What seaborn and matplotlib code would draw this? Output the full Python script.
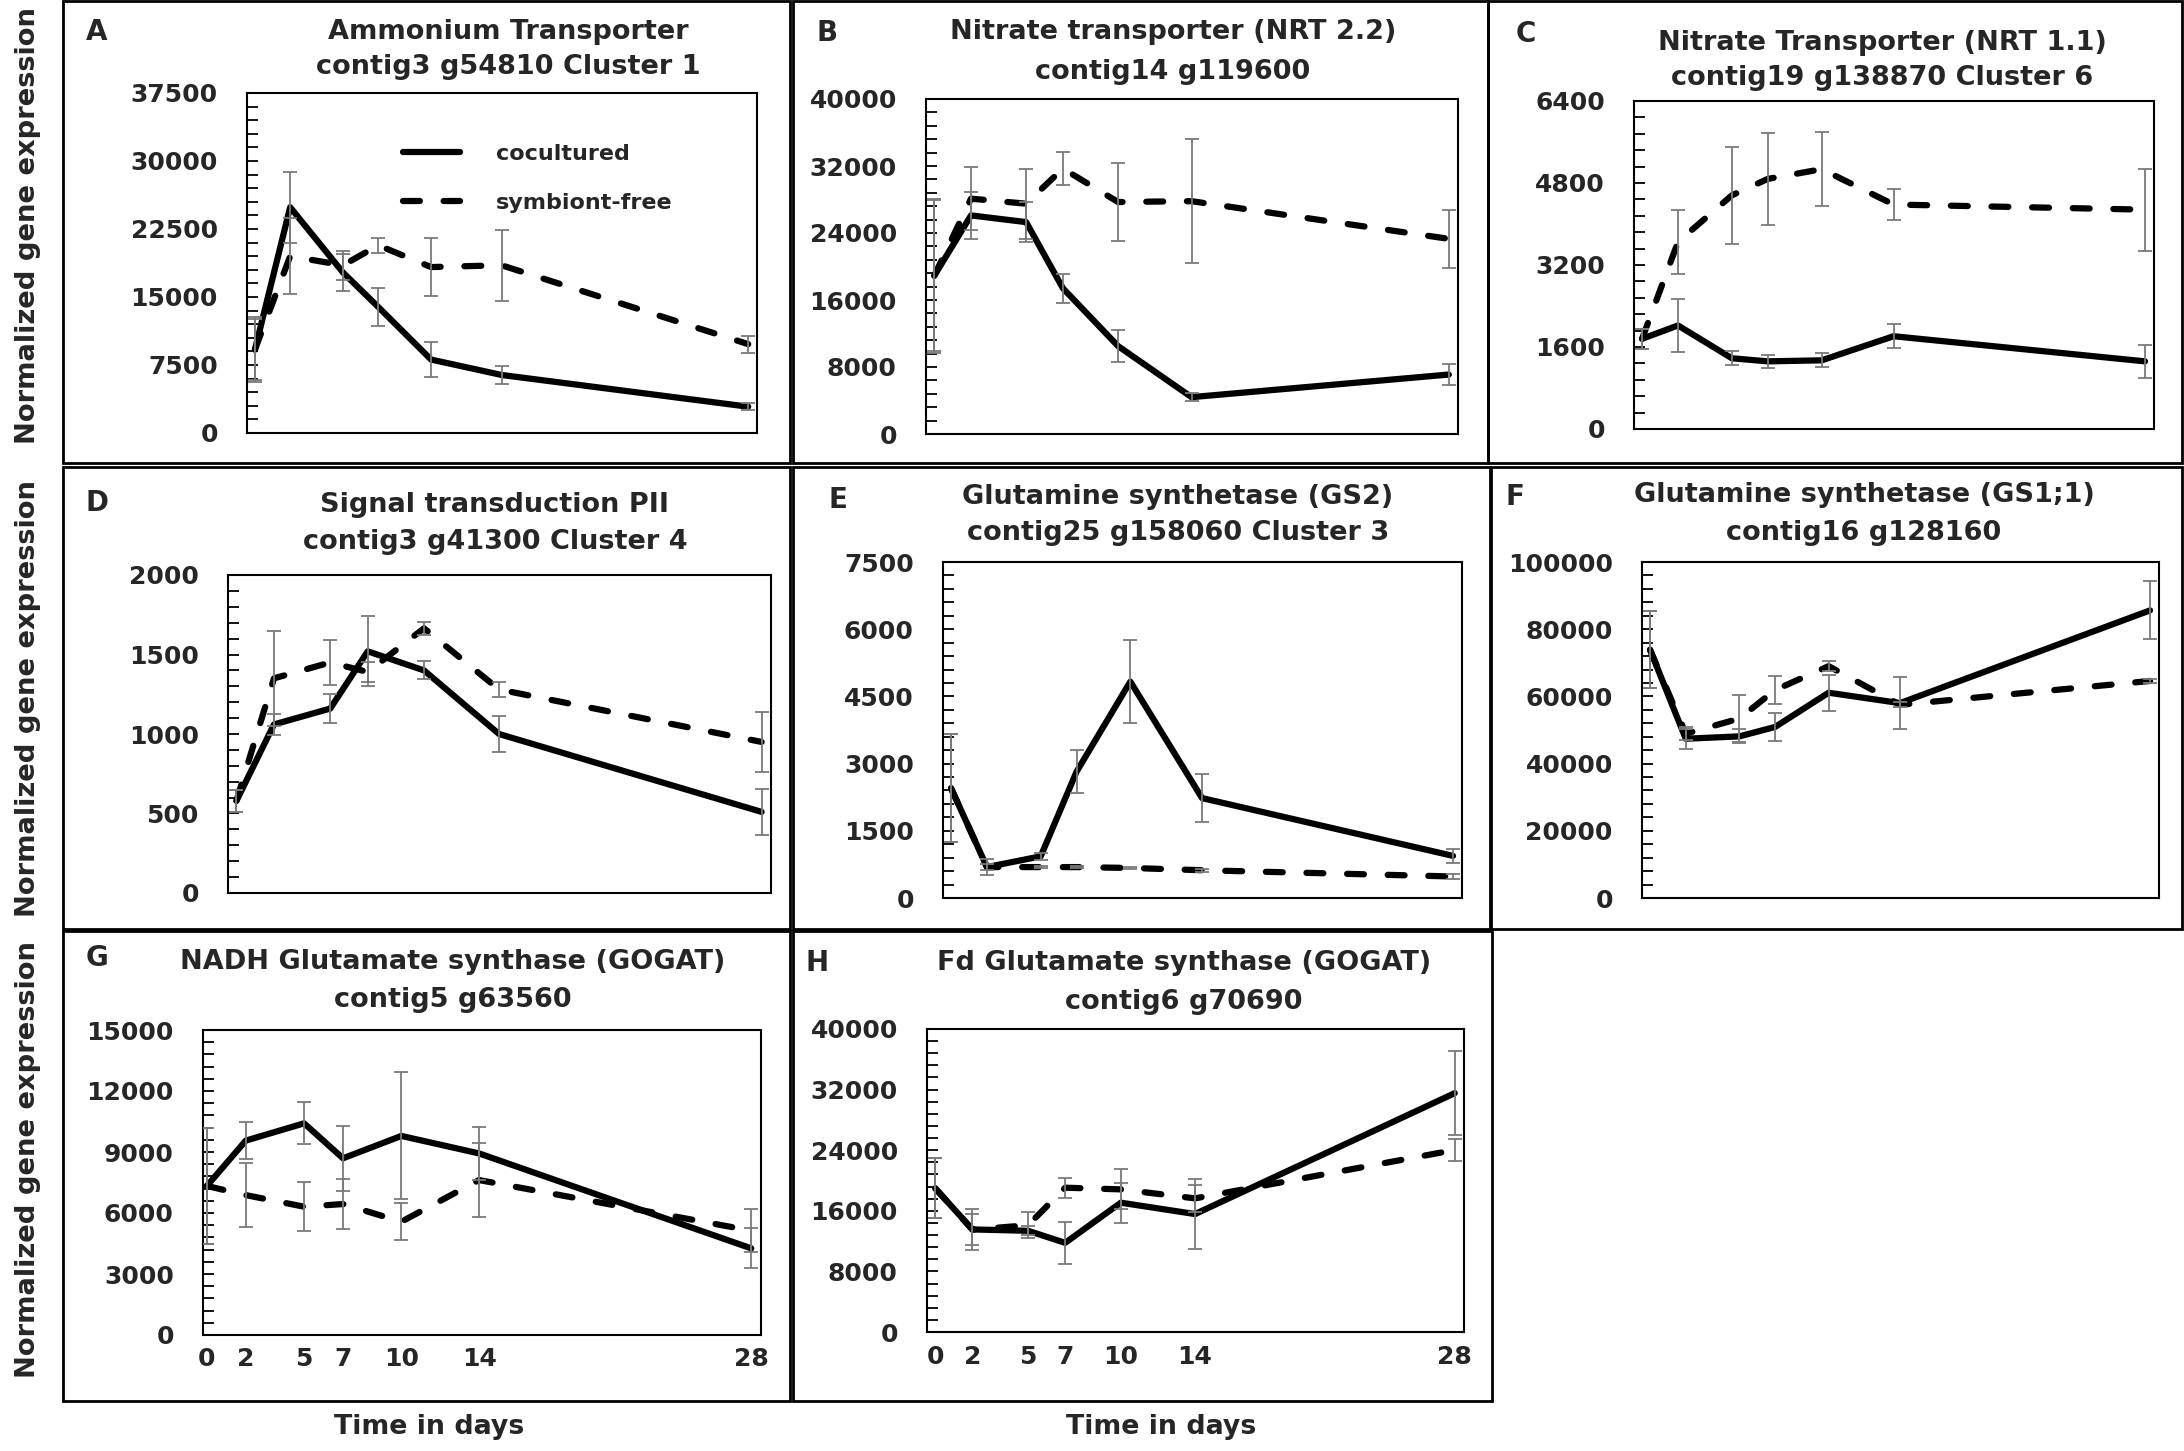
import matplotlib
matplotlib.use("Agg")
import matplotlib.pyplot as plt
import seaborn as sns
import pandas as pd
from matplotlib.patches import Rectangle
from matplotlib.ticker import MultipleLocator

# ---------------- data ----------------
days = [0, 2, 5, 7, 10, 14, 28]
day_labels = ["0", "2", "5", "7", "10", "14", "28"]
series_names = ["cocultured", "symbiont-free"]

A_cocult = [9200, 24900, 17700, 13900, 8100, 6400, 2900]
A_cocult_err = [3600, 3900, 2000, 2100, 1900, 1000, 400]
A_free = [9200, 19500, 18500, 20700, 18300, 18500, 9800]
A_free_err = [3400, 4200, 1600, 800, 3200, 3900, 950]

B_cocult = [18900, 26100, 25300, 17400, 10500, 4400, 7100]
B_cocult_err = [9000, 2800, 2400, 1700, 1900, 500, 1200]
B_free = [18900, 28100, 27500, 31700, 27700, 27800, 23300]
B_free_err = [9200, 3800, 4200, 2000, 4700, 7400, 3500]

C_cocult = [1760, 2020, 1380, 1320, 1340, 1810, 1320]
C_cocult_err = [190, 520, 140, 130, 140, 230, 320]
C_free = [1760, 3650, 4560, 4880, 5070, 4380, 4280]
C_free_err = [190, 630, 950, 900, 720, 300, 800]

D_cocult = [580, 1060, 1160, 1520, 1400, 1000, 510]
D_cocult_err = [70, 66, 92, 220, 57, 115, 143]
D_free = [580, 1350, 1450, 1390, 1665, 1280, 950]
D_free_err = [70, 300, 144, 60, 42, 48, 186]

E_cocult = [2450, 690, 930, 2820, 4830, 2230, 940]
E_cocult_err = [1200, 180, 80, 475, 930, 535, 160]
E_free = [2450, 690, 690, 690, 670, 620, 480]
E_free_err = [1200, 60, 30, 30, 30, 30, 55]

F_cocult = [73900, 47400, 48100, 50900, 61100, 58000, 85600]
F_cocult_err = [11400, 3000, 2100, 4100, 5300, 7800, 8600]
F_free = [73900, 48900, 53400, 61900, 69000, 57500, 64600]
F_free_err = [11400, 2000, 6900, 4300, 1500, 800, 500]

G_cocult = [7330, 9560, 10410, 8690, 9790, 8930, 4260]
G_cocult_err = [2860, 900, 1040, 1600, 3120, 1300, 980]
G_free = [7330, 6880, 6310, 6440, 5570, 7620, 5130]
G_free_err = [2860, 1570, 1200, 1210, 900, 1800, 1050]

H_cocult = [18960, 13540, 13360, 11770, 17070, 15570, 31530]
H_cocult_err = [3970, 2760, 600, 2760, 2650, 4590, 5510]
H_free = [18960, 13500, 14100, 19050, 18830, 17640, 24030]
H_free_err = [3970, 2050, 1700, 1320, 2650, 1760, 1410]

titles = {
    "A": ("Ammonium Transporter", "contig3 g54810 Cluster 1"),
    "B": ("Nitrate transporter (NRT 2.2)", "contig14 g119600"),
    "C": ("Nitrate Transporter (NRT 1.1)", "contig19 g138870 Cluster 6"),
    "D": ("Signal transduction PII", "contig3 g41300 Cluster 4"),
    "E": ("Glutamine synthetase (GS2)", "contig25 g158060 Cluster 3"),
    "F": ("Glutamine synthetase (GS1;1)", "contig16 g128160"),
    "G": ("NADH Glutamate synthase (GOGAT)", "contig5 g63560"),
    "H": ("Fd Glutamate synthase (GOGAT)", "contig6 g70690"),
}
y_max = {"A": 37500, "B": 40000, "C": 6400, "D": 2000, "E": 7500, "F": 100000, "G": 15000, "H": 40000}
y_step = {"A": 7500, "B": 8000, "C": 1600, "D": 500, "E": 1500, "F": 20000, "G": 3000, "H": 8000}

values = {
    "A": (A_cocult, A_cocult_err, A_free, A_free_err),
    "B": (B_cocult, B_cocult_err, B_free, B_free_err),
    "C": (C_cocult, C_cocult_err, C_free, C_free_err),
    "D": (D_cocult, D_cocult_err, D_free, D_free_err),
    "E": (E_cocult, E_cocult_err, E_free, E_free_err),
    "F": (F_cocult, F_cocult_err, F_free, F_free_err),
    "G": (G_cocult, G_cocult_err, G_free, G_free_err),
    "H": (H_cocult, H_cocult_err, H_free, H_free_err),
}

# ---------------- layout (pixels) ----------------
W, H = 2184, 1451
DPI = 100
axes_px = {
    "A": (247, 93, 757, 433),
    "B": (926, 99, 1458, 434),
    "C": (1634, 101, 2154, 429),
    "D": (228, 575, 771, 893),
    "E": (943, 562, 1462, 898),
    "F": (1642, 562, 2159, 898),
    "G": (203, 1030, 761, 1335),
    "H": (927, 1029, 1464, 1332),
}
boxes_px = {
    "A": (63, 1, 790, 463), "B": (793, 1, 1488, 463), "C": (1488, 1, 2182, 463),
    "D": (63, 467, 790, 929), "E": (793, 467, 1490, 929), "F": (1491, 467, 2182, 929),
    "G": (63, 931, 790, 1401), "H": (793, 931, 1492, 1401),
}
title_pos = {
    "A": (508, 32, 67), "B": (1173, 32, 72), "C": (1882, 43, 78),
    "D": (495, 505, 542), "E": (1178, 497, 533), "F": (1864, 495, 533),
    "G": (453, 962, 1000), "H": (1184, 963, 1002),
}
letter_pos = {
    "A": (97, 32), "B": (827, 33), "C": (1526, 34), "D": (97, 503),
    "E": (838, 500), "F": (1515, 497), "G": (97, 958), "H": (817, 963),
}

sns.set_theme(style="white")
plt.rcParams['font.family'] = ['DejaVu Sans']
plt.rcParams['font.weight'] = 'bold'

fig = plt.figure(figsize=(W / DPI, H / DPI), dpi=DPI)
fig.patch.set_facecolor("white")


def fx(px):
    return px / W


def fy(py):
    return 1 - py / H


for key, (x0, y0, x1, y1) in boxes_px.items():
    fig.add_artist(Rectangle((fx(x0), fy(y1)), (x1 - x0) / W, (y1 - y0) / H,
                             transform=fig.transFigure, fill=False,
                             edgecolor="black", linewidth=2.0))

for key in "ABCDEFGH":
    x0, y0, x1, y1 = axes_px[key]
    ax = fig.add_axes([fx(x0), fy(y1), (x1 - x0) / W, (y1 - y0) / H])
    co, co_e, fr, fr_e = values[key]
    df = pd.DataFrame({
        "day": days + days,
        "value": co + fr,
        "series": [series_names[0]] * len(days) + [series_names[1]] * len(days),
    })
    sns.lineplot(data=df, x="day", y="value", style="series",
                 style_order=series_names,
                 dashes={series_names[0]: "", series_names[1]: (2.7, 3.8)},
                 color="black", linewidth=4.5, estimator=None, sort=False,
                 legend=False, ax=ax, zorder=2)
    main_lines = list(ax.lines[:2])
    for ln in main_lines:
        ln.set_solid_capstyle("round")
        ln.set_dash_capstyle("round")
        ln.set_solid_joinstyle("round")
        ln.set_dash_joinstyle("round")
    for vals, errs in ((co, co_e), (fr, fr_e)):
        ax.errorbar(days, vals, yerr=errs, fmt="none", ecolor="#7a7a7a",
                    elinewidth=1.3, capsize=5, capthick=1.3, zorder=3)

    if key == "A":
        ax.legend(main_lines, series_names, loc="upper left",
                  bbox_to_anchor=(0.305, 0.85), frameon=False,
                  prop={"size": 16, "weight": "bold"}, handlelength=2.6,
                  handletextpad=1.6, labelspacing=1.3, borderpad=0,
                  borderaxespad=0)

    ax.set_xlim(-0.2 if key == "G" else -0.45, 28.5)
    ax.set_ylim(0, y_max[key])
    ax.yaxis.set_major_locator(MultipleLocator(y_step[key]))
    ax.yaxis.set_minor_locator(MultipleLocator(y_step[key] / 5))
    ax.tick_params(axis="y", which="both", direction="in", length=8, width=1.3,
                   color="black", left=True, right=False, labelsize=18, pad=21)
    ax.set_yticklabels([f"{int(v)}" for v in ax.get_yticks()], fontweight="bold")
    ax.set_ylim(0, y_max[key])
    if key in ("G", "H"):
        ax.set_xticks(days)
        ax.set_xticklabels(day_labels, fontweight="bold")
        ax.tick_params(axis="x", length=0, labelsize=18, pad=9)
    else:
        ax.set_xticks([])
    ax.set_xlabel("")
    ax.set_ylabel("")
    ax.grid(False)
    for sp in ax.spines.values():
        sp.set_visible(True)
        sp.set_color("black")
        sp.set_linewidth(1.5)

    tx, ty1, ty2 = title_pos[key]
    fig.text(fx(tx), fy(ty1), titles[key][0], ha="center", va="center",
             fontsize=19.5, fontweight="bold")
    fig.text(fx(tx), fy(ty2), titles[key][1], ha="center", va="center",
             fontsize=19.5, fontweight="bold")
    lx, ly = letter_pos[key]
    fig.text(fx(lx), fy(ly), key, ha="center", va="center", fontsize=20,
             fontweight="bold")

for yc in (225, 698, 1160):
    fig.text(fx(28), fy(yc), "Normalized gene expression", rotation=90,
             ha="center", va="center", fontsize=19.7, fontweight="bold")
for xc in (429, 1161):
    fig.text(fx(xc), fy(1427), "Time in days", ha="center", va="center",
             fontsize=19.3, fontweight="bold")

fig.savefig("out.png", dpi=DPI, facecolor="white")
